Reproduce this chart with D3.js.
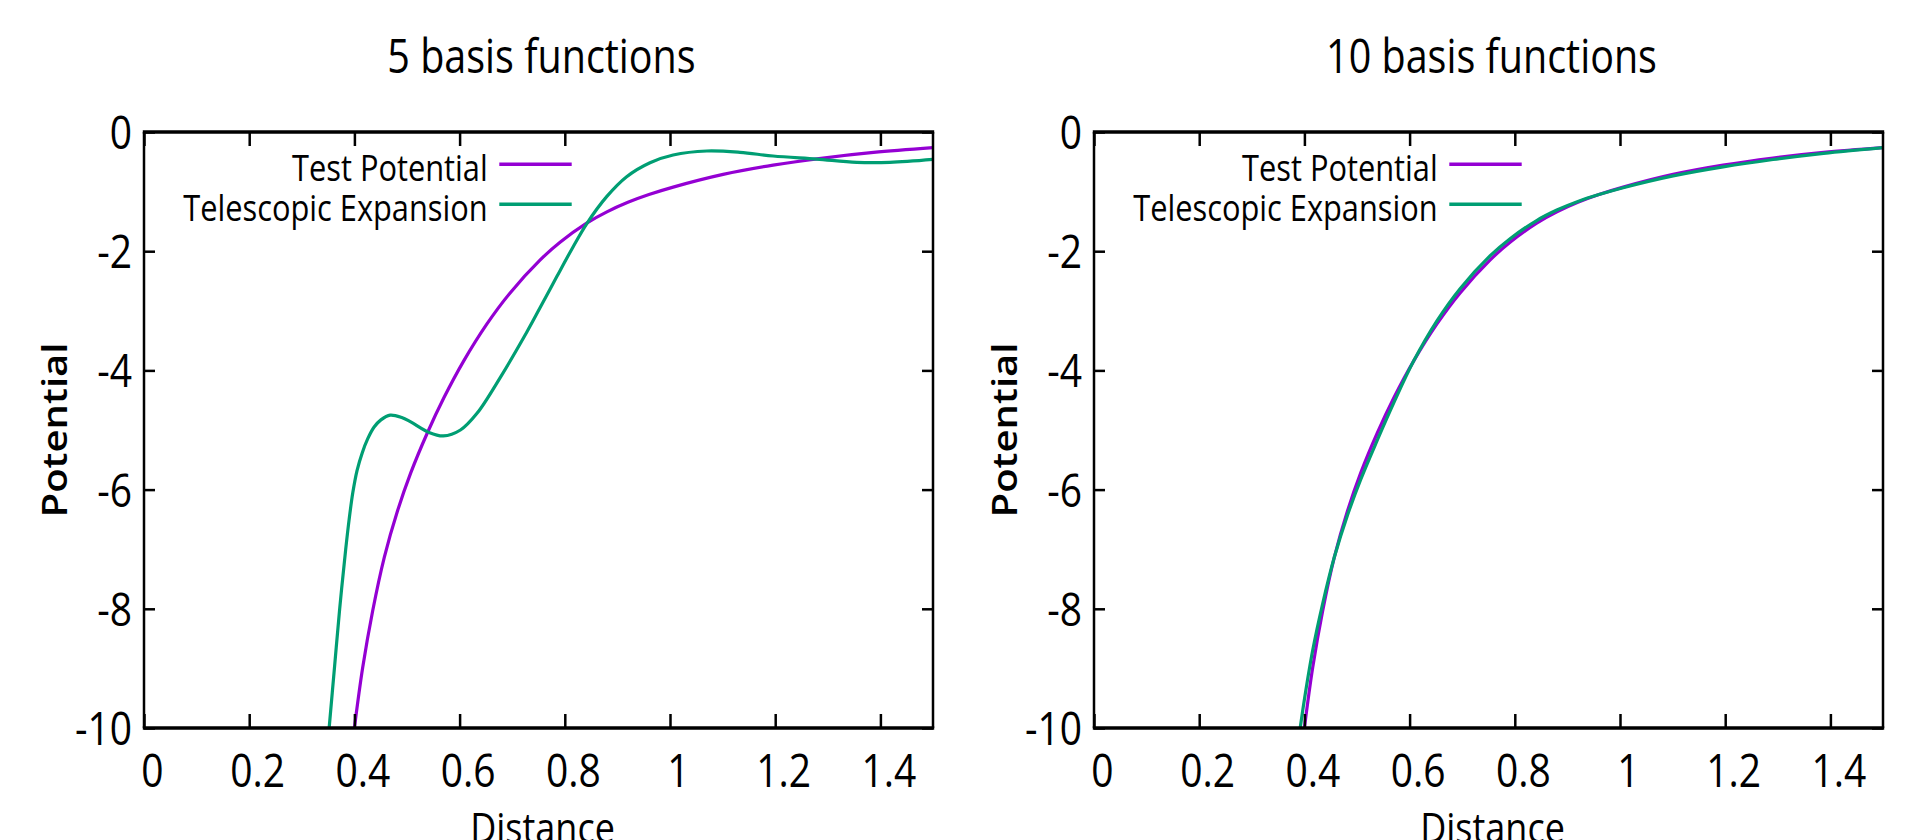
<!DOCTYPE html>
<html lang="en">
<head>
    <meta charset="UTF-8">
    <script src="https://cdn.jsdelivr.net/npm/d3@7"></script>
    <title>basis functions</title>
    <style>
        body { margin: 0; background: #fff; }
        svg text { font-family: "Open Sans", sans-serif; fill: #000; }
    </style>
</head>
<body>
    <div id="chart"></div>

    <script>
        // tick values
        var xTicks = [0, 0.2, 0.4, 0.6, 0.8, 1, 1.2, 1.4];
        var yTicks = [0, -2, -4, -6, -8, -10];

        var titles = ['5 basis functions', '10 basis functions'];
        var seriesNames = ['Test Potential', 'Telescopic Expansion'];
        var seriesColors = ['#9400d3', '#009e73'];

        // test potential (same in both panels)
        var testX = [0.400, 0.4157, 0.4346, 0.4567, 0.4819, 0.5071, 0.5386, 0.5701, 0.6079, 0.652, 0.696,
                     0.7528, 0.791, 0.8416, 0.88, 0.92, 0.96, 1.006, 1.101, 1.196, 1.291, 1.387, 1.5];
        var testY = [-10, -8.99, -8.04, -7.14, -6.36, -5.72, -5.05, -4.46, -3.84, -3.22, -2.70,
                     -2.15, -1.85, -1.53, -1.34, -1.18, -1.05, -0.925, -0.712, -0.556, -0.437, -0.343, -0.262];

        // telescopic expansion, 5 basis functions
        var exp5X = [0.352, 0.362, 0.372, 0.3835, 0.39, 0.397, 0.405, 0.415, 0.4252, 0.4375, 0.4504, 0.468,
                     0.490, 0.5071, 0.5417, 0.569, 0.6016, 0.6331, 0.6772, 0.7276, 0.7529, 0.7846, 0.8162,
                     0.8416, 0.8796, 0.9176, 0.962, 1.006, 1.07, 1.133, 1.196, 1.279, 1.355, 1.418, 1.5];
        var exp5Y = [-10, -9.0, -8.0, -7.0, -6.5, -6.05, -5.68, -5.38, -5.15, -4.95, -4.83, -4.75,
                     -4.79, -4.864, -5.04, -5.10, -5.0, -4.72, -4.12, -3.36, -2.95, -2.43, -1.92,
                     -1.54, -1.085, -0.75, -0.515, -0.386, -0.319, -0.341, -0.403, -0.455, -0.509, -0.509, -0.459];

        // telescopic expansion, 10 basis functions
        var exp10X = [0.392, 0.400, 0.4157, 0.4346, 0.4567, 0.4819, 0.5071, 0.5386, 0.5701, 0.6079, 0.652, 0.696,
                      0.7528, 0.791, 0.8416, 0.88, 0.92, 0.96, 1.006, 1.101, 1.196, 1.291, 1.387, 1.5];
        var exp10Y = [-10, -9.52, -8.70, -7.92, -7.14, -6.43, -5.83, -5.17, -4.54, -3.84, -3.17, -2.63,
                      -2.08, -1.79, -1.485, -1.31, -1.165, -1.05, -0.935, -0.737, -0.586, -0.462, -0.358, -0.262];

        var expX = [exp5X, exp10X];
        var expY = [exp5Y, exp10Y];

        var width = 1910;
        var height = 840;
        var panelLeft = [144, 1094];
        var plotTop = 132;
        var plotW = 789;
        var plotH = 596;
        var stretch = 1.18;   // text in the picture is a little taller than wide

        var svg = d3.select('#chart')
                    .append('svg')
                        .attr('width', width)
                        .attr('height', height);

        var x = d3.scaleLinear().domain([0, 1.5]).range([0, plotW]);
        var y = d3.scaleLinear().domain([-10, 0]).range([plotH, 0]);

        var line = d3.line()
                     .x(function(d) { return x(d[0]); })
                     .y(function(d) { return y(d[1]); })
                     .curve(d3.curveCatmullRom.alpha(0.5));

        svg.append('defs').append('clipPath')
            .attr('id', 'plotclip')
          .append('rect')
            .attr('width', plotW)
            .attr('height', plotH);

        panelLeft.forEach(function(left, p) {
            var g = svg.append('g')
                       .attr('transform', 'translate(' + left + ',' + plotTop + ')');

            // curves
            var curves = g.append('g').attr('clip-path', 'url(#plotclip)');
            var sets = [d3.zip(testX, testY), d3.zip(expX[p], expY[p])];
            sets.forEach(function(pts, i) {
                curves.append('path')
                      .datum(pts)
                      .attr('d', line)
                      .attr('fill', 'none')
                      .attr('stroke', seriesColors[i])
                      .attr('stroke-width', 3.2)
                      .attr('stroke-linejoin', 'round');
            });

            // axes
            var bottom = g.append('g')
                          .attr('transform', 'translate(0,' + plotH + ')')
                          .call(d3.axisBottom(x).tickValues(xTicks).tickSize(-14).tickFormat(function(d) { return String(d); }));
            bottom.selectAll('text')
                  .attr('x', 8)
                  .attr('y', 58.7 / stretch)
                  .attr('dy', null)
                  .attr('transform', 'scale(1,' + stretch + ')');

            var leftAxis = g.append('g')
                            .call(d3.axisLeft(y).tickValues(yTicks).tickSize(-11).tickFormat(function(d) { return String(d); }));
            leftAxis.selectAll('text')
                    .attr('x', -12)
                    .attr('y', 16.5 / stretch)
                    .attr('dy', null)
                    .attr('transform', 'scale(1,' + stretch + ')');

            g.append('g')
             .call(d3.axisTop(x).tickValues(xTicks).tickSize(-14).tickFormat(''));
            g.append('g')
             .attr('transform', 'translate(' + plotW + ',0)')
             .call(d3.axisRight(y).tickValues(yTicks).tickSize(-11).tickFormat(''));

            g.selectAll('.domain').remove();
            g.selectAll('.tick line').attr('stroke', '#000').attr('stroke-width', 2.5);
            g.selectAll('.tick text').attr('font-size', 39).attr('font-family', null).attr('fill', '#000');
            g.selectAll('g').attr('font-family', null).attr('font-size', null);

            // frame
            g.append('line').attr('x1', -1.2).attr('x2', plotW + 1.2).attr('y1', 0).attr('y2', 0)
             .attr('stroke', '#000').attr('stroke-width', 3.5);
            g.append('line').attr('x1', -1.2).attr('x2', plotW + 1.2).attr('y1', plotH).attr('y2', plotH)
             .attr('stroke', '#000').attr('stroke-width', 3.5);
            g.append('line').attr('x1', 0).attr('x2', 0).attr('y1', 0).attr('y2', plotH)
             .attr('stroke', '#000').attr('stroke-width', 2.5);
            g.append('line').attr('x1', plotW).attr('x2', plotW).attr('y1', 0).attr('y2', plotH)
             .attr('stroke', '#000').attr('stroke-width', 2.5);

            // title
            g.append('text')
             .attr('transform', 'translate(' + (plotW / 2 + 3) + ',' + (73.3 - plotTop) + ') scale(1,' + stretch + ')')
             .attr('text-anchor', 'middle')
             .attr('font-size', 39.5)
             .text(titles[p]);

            // axis labels
            g.append('text')
             .attr('transform', 'translate(' + (plotW / 2 + 4) + ',' + (843 - plotTop) + ') scale(1,' + stretch + ')')
             .attr('text-anchor', 'middle')
             .attr('font-size', 36)
             .text('Distance');

            g.append('text')
             .attr('transform', 'translate(-77.3,' + (plotH / 2) + ') scale(1,' + stretch + ') rotate(-90)')
             .attr('text-anchor', 'middle')
             .attr('font-size', 34)
             .attr('font-weight', 600)
             .text('Potential');

            // legend
            var legend = g.selectAll('.legend')
                          .data(seriesNames)
                          .enter()
                          .append('g')
                              .attr('class', 'legend')
                              .attr('transform', function(d, i) {
                                  return 'translate(0,' + (32.3 + i * 40) + ')';
                              });

            legend.append('line')
                  .attr('x1', 355.3)
                  .attr('x2', 427.7)
                  .attr('stroke', function(d, i) { return seriesColors[i]; })
                  .attr('stroke-width', 3.5);

            legend.append('text')
                  .attr('transform', 'translate(343.7,16.7) scale(1,' + stretch + ')')
                  .attr('text-anchor', 'end')
                  .attr('font-size', 30.8)
                  .text(function(d) { return d; });
        });
    </script>
</body>
</html>
